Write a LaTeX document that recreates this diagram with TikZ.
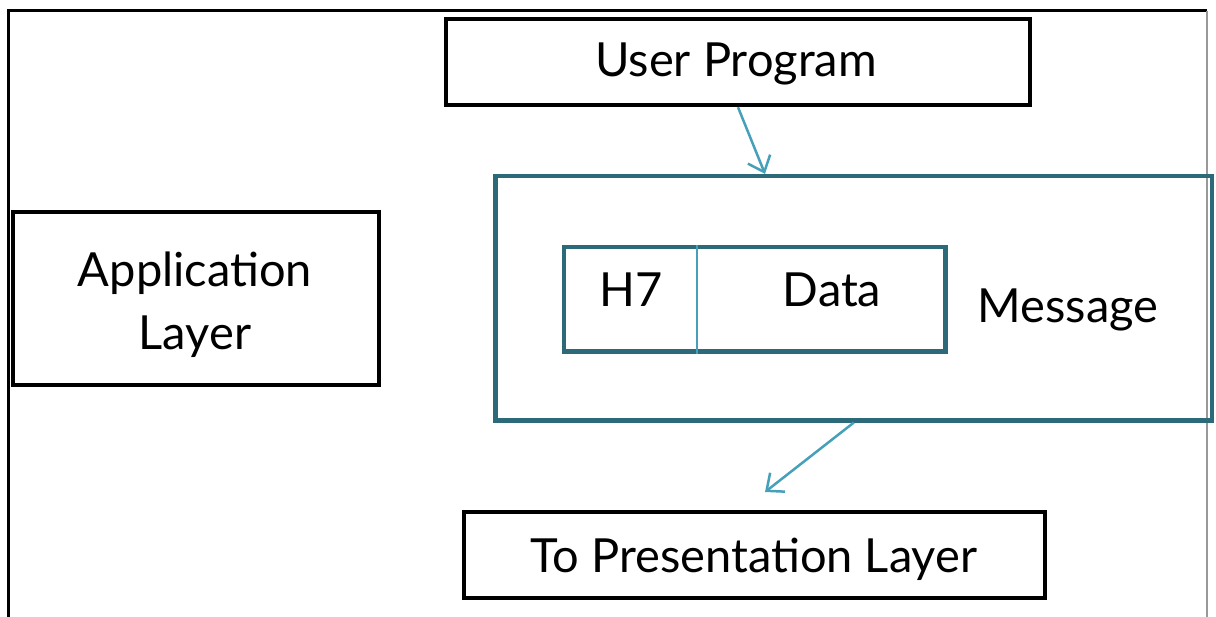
\documentclass[tikz,border=0pt]{standalone}
\usepackage{fontspec}
\setmainfont{Lato}
\usetikzlibrary{arrows.meta}
\definecolor{tealdark}{RGB}{44,106,122}
\definecolor{teallight}{RGB}{70,160,185}
\begin{document}
\begin{tikzpicture}[x=1pt,y=-1pt,
  blackbox/.style={draw=black,line width=4.4pt,inner sep=0pt},
  tealbox/.style={draw=tealdark,line width=4.2pt,inner sep=0pt},
  txt/.style={font=\fontsize{47}{63}\selectfont,inner sep=0pt,anchor=base},
  conn/.style={draw=teallight,line width=2.5pt,-{Straight Barb[length=14pt,width=24pt]}}]
\useasboundingbox (0,0) rectangle (1216,617);
\fill[white] (0,0) rectangle (1216,617);
% frame
\draw[line width=2.6pt] (8.7,617) -- (8.7,10.7) -- (1207,10.7);
\draw[gray!80,line width=1.5pt] (1207,10.7) -- (1207,617);
% boxes
\node[blackbox,minimum width=583.5pt,minimum height=86pt] (user) at (738,62) {};
\node[blackbox,minimum width=366pt,minimum height=173pt] (app) at (196,298.5) {};
\node[tealbox,minimum width=716.5pt,minimum height=244.5pt] (msg) at (853.75,298.25) {};
\node[tealbox,minimum width=381.5pt,minimum height=104.5pt] (pkt) at (754.75,299.25) {};
\node[blackbox,minimum width=581pt,minimum height=86.5pt] (pres) at (754.5,555) {};
\coordinate (div) at (696.7,299);
\draw[teallight,line width=2pt] (div |- pkt.north) -- (div |- pkt.south);
% texts
\node[txt] (userT) at (736,77) {User Program};
\node[txt] (appT1) at (195,287) {Application};
\node[txt] (appT2) at (195,350) {Layer};
\node[txt] (h7T) at (631,307) {H7};
\node[txt] (dataT) at (832,307) {Data};
\node[txt] (msgT) at (1068,323) {Message};
\node[txt] (presT) at (754,572) {To Presentation Layer};
% connectors
\coordinate (a2) at (765,492);
\draw[conn] (user.south) -- ([xshift=-88.75pt]msg.north);
\draw[conn] (msg.south) -- (a2);
\end{tikzpicture}
\end{document}
